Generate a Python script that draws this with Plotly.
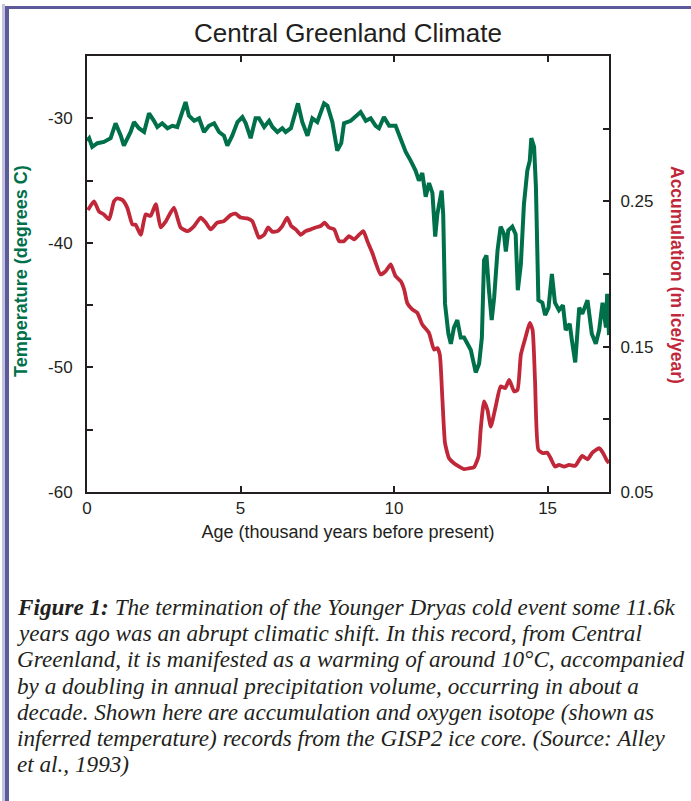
import plotly.graph_objects as go

# ---------------- data ----------------
age_temp = [0.0, 0.07, 0.17, 0.34, 0.55, 0.77, 0.93, 1.10, 1.20, 1.42, 1.53, 1.69, 1.86, 2.02, 2.18,
            2.29, 2.45, 2.62, 2.78, 2.94, 3.10, 3.21, 3.32, 3.49, 3.65, 3.81, 3.97, 4.14, 4.30, 4.46,
            4.57, 4.73, 4.90, 5.06, 5.17, 5.33, 5.49, 5.60, 5.77, 5.93, 6.04, 6.20, 6.36, 6.47, 6.64,
            6.74, 6.87, 7.01, 7.18, 7.34, 7.50, 7.72, 7.83, 7.99, 8.15, 8.28, 8.37, 8.59, 8.80, 8.91,
            9.08, 9.24, 9.40, 9.51, 9.67, 9.84, 10.05, 10.21, 10.38, 10.54, 10.70, 10.81, 10.92, 11.03,
            11.14, 11.25, 11.34, 11.41, 11.49, 11.55, 11.60, 11.66, 11.77, 11.85, 11.95, 12.06, 12.17,
            12.28, 12.39, 12.50, 12.57, 12.66, 12.77, 12.86, 12.93, 13.01, 13.09, 13.18, 13.26, 13.37,
            13.47, 13.58, 13.64, 13.72, 13.85, 13.96, 14.03, 14.13, 14.23, 14.34, 14.42, 14.47, 14.56,
            14.62, 14.70, 14.83, 14.92, 15.03, 15.14, 15.24, 15.37, 15.50, 15.59, 15.72, 15.79, 15.90,
            16.03, 16.13, 16.30, 16.44, 16.57, 16.68, 16.79, 16.90, 16.94, 17.0]
temperature = [-31.8, -31.6, -32.3, -32.0, -31.9, -31.6, -30.4, -31.4, -32.2, -31.1, -30.3, -30.8, -31.1,
               -29.6, -30.2, -30.7, -30.4, -30.8, -30.6, -30.7, -29.5, -28.7, -29.8, -30.2, -30.0, -31.1,
               -30.6, -30.4, -31.1, -31.4, -32.2, -31.4, -30.3, -29.9, -30.4, -31.6, -30.0, -30.0, -30.7,
               -30.2, -30.7, -31.1, -30.8, -31.1, -30.8, -29.8, -28.8, -30.3, -31.4, -30.0, -30.3, -28.8,
               -29.0, -30.3, -32.6, -32.0, -30.4, -30.2, -29.8, -29.5, -30.2, -30.0, -30.6, -30.8, -29.9,
               -30.6, -30.6, -31.6, -32.7, -33.4, -34.2, -35.0, -34.4, -36.3, -35.2, -36.0, -39.5, -37.7,
               -36.6, -35.8, -37.7, -44.9, -47.3, -48.1, -46.8, -46.2, -47.6, -47.6, -48.1, -48.6, -49.4,
               -50.4, -49.7, -47.6, -41.4, -41.0, -43.8, -46.2, -44.4, -40.6, -38.7, -39.3, -40.7, -39.0,
               -38.7, -39.3, -43.8, -41.7, -36.9, -34.2, -33.4, -31.6, -32.3, -35.5, -44.6, -44.8, -45.8,
               -45.2, -42.5, -44.8, -45.4, -45.0, -47.0, -46.5, -47.8, -49.6, -45.2, -45.7, -44.6, -47.3,
               -48.1, -47.0, -44.8, -46.8, -44.1, -47.4]

age_acc = [0.03, 0.23, 0.39, 0.55, 0.72, 0.88, 0.99, 1.15, 1.31, 1.48, 1.58, 1.75, 1.91, 2.07, 2.24,
           2.40, 2.56, 2.83, 3.05, 3.27, 3.49, 3.70, 3.87, 4.03, 4.24, 4.46, 4.68, 4.84, 5.00, 5.22,
           5.38, 5.50, 5.60, 5.77, 5.90, 6.04, 6.20, 6.36, 6.52, 6.65, 6.80, 6.96, 7.12, 7.29, 7.45,
           7.61, 7.74, 7.88, 8.05, 8.21, 8.37, 8.53, 8.70, 8.86, 9.00, 9.13, 9.29, 9.56, 9.73, 9.89,
           10.05, 10.22, 10.33, 10.43, 10.60, 10.76, 10.92, 11.14, 11.30, 11.41, 11.49, 11.57, 11.66,
           11.79, 11.95, 12.12, 12.28, 12.44, 12.60, 12.75, 12.82, 12.93, 13.04, 13.15, 13.31, 13.47,
           13.62, 13.75, 13.91, 14.02, 14.13, 14.29, 14.42, 14.51, 14.59, 14.70, 14.85, 14.99, 15.10,
           15.24, 15.37, 15.54, 15.70, 15.90, 16.03, 16.13, 16.30, 16.46, 16.68, 16.81, 16.92, 17.0]
accumulation = [0.244, 0.250, 0.243, 0.241, 0.2376, 0.250, 0.252, 0.251, 0.2457, 0.234, 0.234, 0.227,
                0.241, 0.240, 0.248, 0.232, 0.236, 0.2457, 0.232, 0.2295, 0.233, 0.2388, 0.2353, 0.2307,
                0.2353, 0.2364, 0.2406, 0.2415, 0.2388, 0.2383, 0.2364, 0.230, 0.225, 0.227, 0.232,
                0.229, 0.2295, 0.233, 0.2388, 0.233, 0.2307, 0.227, 0.2295, 0.2307, 0.232, 0.233,
                0.2353, 0.232, 0.2307, 0.2226, 0.2226, 0.226, 0.2238, 0.227, 0.2295, 0.2226, 0.2146,
                0.1997, 0.202, 0.2066, 0.1985, 0.195, 0.1893, 0.180, 0.1755, 0.1732, 0.1652, 0.1594,
                0.148, 0.149, 0.1445, 0.1157, 0.0836, 0.0732, 0.0698, 0.0675, 0.0657, 0.0663, 0.067,
                0.0744, 0.0928, 0.1123, 0.1066, 0.095, 0.1088, 0.1226, 0.1215, 0.1272, 0.1192, 0.1203,
                0.1445, 0.1571, 0.1663, 0.1617, 0.1272, 0.079, 0.0767, 0.0771, 0.0732, 0.0675, 0.0686,
                0.0675, 0.0686, 0.068, 0.0721, 0.0748, 0.0725, 0.0771, 0.0801, 0.0767, 0.0721, 0.070]

x_ticks = [0, 5, 10, 15]
temp_ticks = [-60, -55, -50, -45, -40, -35, -30, -25]
temp_ticktext = ["-60", "", "-50", "", "-40", "", "-30", ""]
acc_ticks = [0.05, 0.10, 0.15, 0.20, 0.25, 0.30, 0.35]
acc_ticktext = ["0.05", "", "0.15", "", "0.25", "", ""]

caption_lines = [
    "<b>Figure 1:</b> The termination of the Younger Dryas cold event some 11.6k",
    "years ago was an abrupt climatic shift. In this record, from Central",
    "Greenland, it is manifested as a warming of around 10°C, accompanied",
    "by a doubling in annual precipitation volume, occurring in about a",
    "decade. Shown here are accumulation and oxygen isotope (shown as",
    "inferred temperature) records from the GISP2 ice core. (Source: Alley",
    "et al., 1993)",
]

# ---------------- layout geometry ----------------
W, H = 691, 801
L, R, T, B = 87, 609, 56, 492
GREEN = "#00704a"
RED = "#c0283a"
PURPLE = "#5d5a9c"
SANS = "Liberation Sans, Arial, sans-serif"


def px(x):
    return (x - L) / (R - L)


def py(y):
    return (B - y) / (B - T)


fig = go.Figure()
fig.add_trace(go.Scatter(x=age_temp, y=temperature, mode="lines",
                         line=dict(color=GREEN, width=4), yaxis="y", showlegend=False))
fig.add_trace(go.Scatter(x=age_acc, y=accumulation, mode="lines",
                         line=dict(color=RED, width=3.8, shape="spline", smoothing=0.5),
                         yaxis="y2", showlegend=False))

axis_font = dict(family=SANS, size=17, color="#231f20")

fig.update_layout(
    width=W, height=H,
    margin=dict(l=L, r=W - R, t=T, b=H - B),
    paper_bgcolor="white", plot_bgcolor="white",
    title=dict(text="Central Greenland Climate", x=0.5, xref="paper", xanchor="center",
               y=1 - 33 / H, yref="container", yanchor="middle",
               font=dict(family=SANS, size=26, color="#231f20")),
    xaxis=dict(range=[0, 17], tickvals=x_ticks, ticks="inside", ticklen=6, tickwidth=2,
               tickcolor="#231f20", showline=True, linewidth=2, linecolor="#231f20",
               mirror="ticks", showgrid=False, zeroline=False, tickfont=axis_font,
               title=dict(text="Age (thousand years before present)",
                          font=dict(family=SANS, size=18, color="#231f20"), standoff=8)),
    yaxis=dict(range=[-60, -25], tickvals=temp_ticks, ticktext=temp_ticktext, ticks="inside",
               ticklen=6, tickwidth=2, tickcolor="#231f20", showline=True, linewidth=2,
               linecolor="#231f20", showgrid=False, zeroline=False, tickfont=axis_font,
               ticklabelstandoff=9),
    yaxis2=dict(range=[0.05, 0.35], tickvals=acc_ticks, ticktext=acc_ticktext, ticks="inside",
                ticklen=6, tickwidth=2, tickcolor="#231f20", showline=True, linewidth=2,
                linecolor="#231f20", showgrid=False, zeroline=False, tickfont=axis_font,
                overlaying="y", side="right", ticklabelstandoff=6),
)

# axis titles (coloured, bold)
fig.add_annotation(text="<b>Temperature (degrees C)</b>", xref="paper", yref="paper",
                   x=px(9), y=py(271), textangle=-90, showarrow=False,
                   font=dict(family=SANS, size=18, color=GREEN))
fig.add_annotation(text="<b>Accumulation (m ice/year)</b>", xref="paper", yref="paper",
                   x=px(689), y=py(275), textangle=90, showarrow=False,
                   font=dict(family=SANS, size=17.5, color=RED))

# caption
for i, line in enumerate(caption_lines):
    fig.add_annotation(text="<i>" + line + "</i>", xref="paper", yref="paper",
                       x=px(15), y=py(607 + i * 26.2), xanchor="left", yanchor="middle",
                       showarrow=False, align="left",
                       font=dict(family="Liberation Serif, Times New Roman, serif", size=23.2,
                                 color="#231f20"))

# page frame (purple bars)
fig.add_shape(type="rect", xref="paper", yref="paper", x0=px(5), x1=px(9), y0=py(H + 2), y1=py(6),
              fillcolor=PURPLE, line=dict(width=0), layer="above")
fig.add_shape(type="rect", xref="paper", yref="paper", x0=px(2), x1=px(5), y0=py(H + 2), y1=py(4),
              fillcolor="#c4c2dd", line=dict(width=0), layer="above")
fig.add_shape(type="rect", xref="paper", yref="paper", x0=px(5), x1=px(W + 2), y0=py(9), y1=py(6),
              fillcolor=PURPLE, line=dict(width=0), layer="above")

fig.write_html("out.html", config={"displayModeBar": False},
               post_script="document.body.style.margin='0';document.body.style.overflow='hidden';")
